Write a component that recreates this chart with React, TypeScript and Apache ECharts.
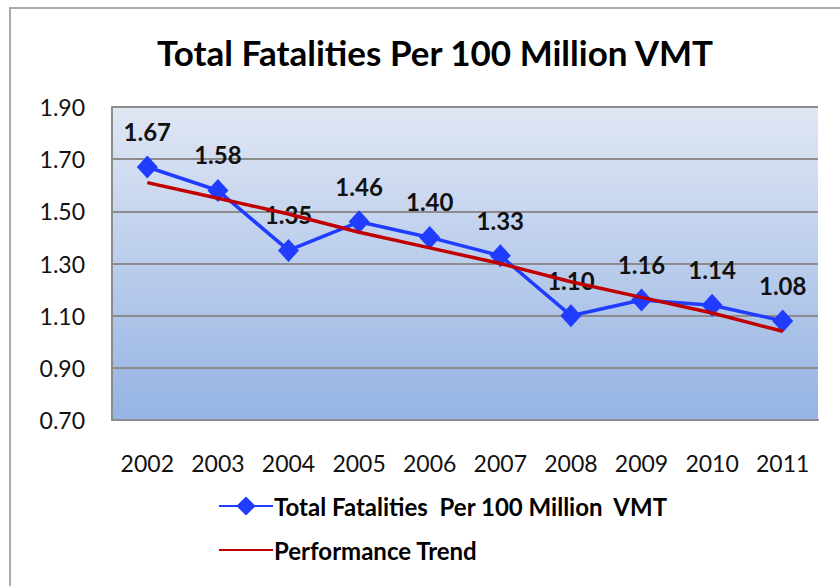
import React, { useEffect, useRef } from "react";
import * as echarts from "echarts";

const years = ["2002", "2003", "2004", "2005", "2006", "2007", "2008", "2009", "2010", "2011"];
const fatalities = [1.67, 1.58, 1.35, 1.46, 1.4, 1.33, 1.1, 1.16, 1.14, 1.08];
const trend = [1.61, 1.55, 1.49, 1.42, 1.36, 1.3, 1.23, 1.17, 1.11, 1.04];
const seriesNames = ["Total Fatalities  Per 100 Million  VMT", "Performance Trend"];
const titleText = "Total Fatalities Per 100 Million VMT";

const FONT = "Lato, 'Open Sans', sans-serif";

export default function App() {
  const ref = useRef<HTMLDivElement>(null);
  useEffect(() => {
    if (!ref.current) return;
    const chart = echarts.init(ref.current, null, { renderer: "svg" });
    chart.setOption({
      animation: false,
      backgroundColor: "#ffffff",
      title: {
        text: titleText,
        left: 430,
        top: 29,
        textAlign: "center",
        textStyle: { fontFamily: FONT, fontSize: 35, fontWeight: "bold", color: "#000" },
      },
      graphic: [
        {
          type: "rect",
          shape: { x: 10, y: 8, width: 900, height: 700 },
          style: { fill: "none", stroke: "#aaaaaa", lineWidth: 2 },
          silent: true,
        },
      ],
      legend: {
        orient: "vertical",
        left: 213,
        top: 489,
        itemWidth: 54,
        itemHeight: 24,
        itemGap: 20,
        data: [
          { name: seriesNames[0] },
          { name: seriesNames[1], itemStyle: { opacity: 0 } },
        ],
        textStyle: { fontFamily: FONT, fontSize: 24, fontWeight: "bold", color: "#000", padding: [0, 0, 0, -4] },
      },
      grid: {
        left: 112,
        right: 22,
        top: 107,
        bottom: 166,
        show: true,
        borderWidth: 0,
        backgroundColor: new echarts.graphic.LinearGradient(0, 0, 0, 1, [
          { offset: 0, color: "#e0e7f4" },
          { offset: 1, color: "#95b3e3" },
        ]),
      },
      xAxis: {
        type: "category",
        data: years,
        boundaryGap: true,
        axisLine: { lineStyle: { color: "#8c8c8c", width: 2 } },
        axisTick: { inside: true, length: 6, lineStyle: { color: "#8c8c8c", width: 1.5 } },
        axisLabel: { margin: 31, fontFamily: FONT, fontSize: 23, color: "#111" },
      },
      yAxis: {
        type: "value",
        min: 0.7,
        max: 1.9,
        interval: 0.2,
        axisLine: { show: true, lineStyle: { color: "#8c8c8c", width: 2 } },
        axisTick: { show: false },
        axisLabel: {
          margin: 27,
          fontFamily: FONT,
          fontSize: 23,
          color: "#111",
          formatter: (v: number) => v.toFixed(2),
        },
        splitLine: { lineStyle: { color: "#8c8c8c", width: 2 } },
      },
      series: [
        {
          name: seriesNames[0],
          type: "line",
          data: fatalities,
          z: 2,
          symbol: "diamond",
          symbolSize: [21, 23],
          itemStyle: { color: "#1f3cff" },
          lineStyle: { color: "#1f3cff", width: 3.5 },
          label: {
            show: true,
            position: "top",
            distance: 12,
            fontFamily: FONT,
            fontSize: 24,
            fontWeight: "bold",
            color: "#111",
            formatter: (p: any) => Number(p.value).toFixed(2),
          },
        },
        {
          name: seriesNames[1],
          type: "line",
          data: trend,
          z: 3,
          symbol: "none",
          itemStyle: { color: "#c00000" },
          lineStyle: { color: "#c00000", width: 3.5 },
        },
      ],
    });
    return () => chart.dispose();
  }, []);
  return (
    <div
      ref={ref}
      style={{ position: "fixed", left: 0, top: 0, width: 840, height: 586 }}
    />
  );
}
